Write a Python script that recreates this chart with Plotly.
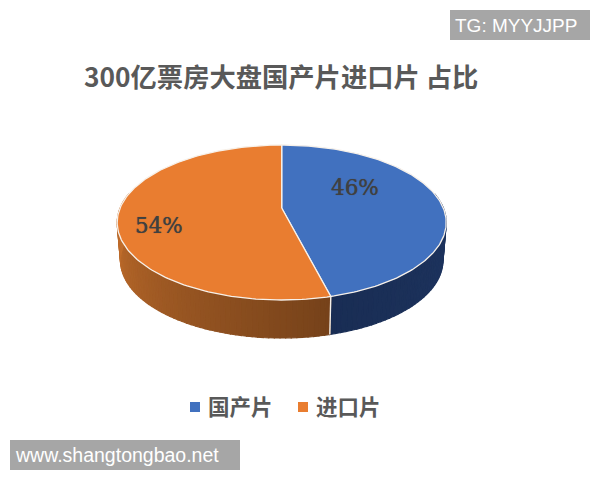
import math
import plotly.graph_objects as go

categories = ["国产片", "进口片"]
values = [46, 54]
colors = ["#4171BF", "#E97D30"]
title_text = "300亿票房大盘国产片进口片 占比"
tag_text = "TG: MYYJJPP"
site_text = "www.shangtongbao.net"

# projection of the tilted, perspective disc onto the page
CX, CY, A, B, K = 281.7, 208.0, 161.6, 74.8, 0.187
DEPTH, SHRINK = 38.0, 0.98
CJK = "Noto Sans CJK SC, Liberation Sans, sans-serif"


def top_pt(t, r=1.0):
    X, Y = r * math.sin(t), r * math.cos(t)
    w = 1 + K * Y
    return CX + A * X / w, CY - B * Y / w


def low_pt(t):
    x, y = top_pt(t)
    return CX + SHRINK * (x - CX), y + DEPTH


def mix(c1, c2, f):
    return "rgb(%d,%d,%d)" % tuple(round(a + (b - a) * f) for a, b in zip(c1, c2))


total = sum(values)
bounds = [0.0]
for v in values:
    bounds.append(bounds[-1] + 2 * math.pi * v / total)

fig = go.Figure()


def quad(t0, t1, color):
    x0, y0 = top_pt(t0)
    x1, y1 = top_pt(t1)
    x2, y2 = low_pt(t1)
    x3, y3 = low_pt(t0)
    fig.add_trace(go.Scatter(
        x=[x0, x1, x2, x3, x0], y=[y0, y1, y2, y3, y0], mode="lines",
        fill="toself", fillcolor=color, line=dict(color=color, width=1.2),
        hoverinfo="skip", showlegend=False))


# outer wall: blue part from the right edge to the seam
side_start = math.pi / 2 - 0.2
n = 50
for i in range(n):
    t0 = side_start + (bounds[1] - side_start) * i / n
    t1 = side_start + (bounds[1] - side_start) * (i + 1) / n
    quad(t0, t1, mix((31, 54, 98), (25, 45, 84), i / n))

# orange wall: from the seam round to the left edge
side_end = 3 * math.pi / 2 + 0.2
for i in range(n + 20):
    t0 = bounds[1] + (side_end - bounds[1]) * i / (n + 20)
    t1 = bounds[1] + (side_end - bounds[1]) * (i + 1) / (n + 20)
    quad(t0, t1, mix((118, 66, 26), (203, 115, 46), i / (n + 19)))

# white seam on the wall
sx0, sy0 = top_pt(bounds[1])
sx1, sy1 = low_pt(bounds[1])
fig.add_trace(go.Scatter(x=[sx0, sx1], y=[sy0, sy1], mode="lines",
                         line=dict(color="#F4EFE8", width=1.4),
                         hoverinfo="skip", showlegend=False))

# top face slices
for i, col in enumerate(colors):
    steps = 160
    ts = [bounds[i] + (bounds[i + 1] - bounds[i]) * k / steps for k in range(steps + 1)]
    pts = [top_pt(t) for t in ts]
    xs = [CX] + [p[0] for p in pts] + [CX]
    ys = [CY] + [p[1] for p in pts] + [CY]
    fig.add_trace(go.Scatter(x=xs, y=ys, mode="lines", fill="toself", fillcolor=col,
                             line=dict(color="#F7F1EA", width=1.3),
                             hoverinfo="skip", showlegend=False))

# legend entries
for cat, col in zip(categories, colors):
    fig.add_trace(go.Scatter(x=[None], y=[None], mode="markers", name=cat,
                             marker=dict(symbol="square", size=10, color=col)))

# percent labels
label_pos = [(355, 187), (159, 225)]
annos = []
for v, (x, y) in zip(values, label_pos):
    annos.append(dict(x=x, y=y, xref="x", yref="y", text=f"{v}%", showarrow=False,
                      font=dict(family="DejaVu Serif, Liberation Serif, serif", size=21.5, color="#404040",
                                shadow="0 0 0.7px #404040")))

annos.append(dict(x=82, y=75, xref="x", yref="y", xanchor="left", text=f"<b>{title_text}</b>",
                  showarrow=False, font=dict(family=CJK, size=26.3, color="#595959")))
annos.append(dict(x=453, y=25, xref="x", yref="y", xanchor="left", text=tag_text, showarrow=False,
                  font=dict(family="Liberation Sans, sans-serif", size=19, color="#FFFFFF")))
annos.append(dict(x=12.5, y=455, xref="x", yref="y", xanchor="left", text=site_text, showarrow=False,
                  font=dict(family="Liberation Sans, sans-serif", size=19.5, color="#FFFFFF")))

shapes = [
    dict(type="rect", x0=450, x1=590, y0=10, y1=40, xref="x", yref="y",
         fillcolor="#A6A6A6", line=dict(width=0), layer="below"),
    dict(type="rect", x0=10, x1=240, y0=440, y1=470, xref="x", yref="y",
         fillcolor="#A6A6A6", line=dict(width=0), layer="below"),
]

fig.update_layout(
    width=600, height=480, autosize=False,
    margin=dict(l=0, r=0, t=0, b=0),
    paper_bgcolor="white", plot_bgcolor="white",
    xaxis=dict(range=[0, 600], visible=False, fixedrange=True),
    yaxis=dict(range=[480, 0], visible=False, fixedrange=True),
    shapes=shapes, annotations=annos,
    legend=dict(orientation="h", x=168 / 600, xanchor="left", y=1 - 407 / 480, yanchor="middle",
                entrywidth=63, entrywidthmode="pixels", itemwidth=30,
                traceorder="normal",
                font=dict(family=CJK, size=21.5, color="#595959", weight=700),
                bgcolor="rgba(0,0,0,0)"),
)

post = """
document.body.style.margin = '0';
document.querySelectorAll('.legend .legendsymbols').forEach(function (g) {
  g.setAttribute('transform', 'translate(7,0)');
});
"""
fig.write_html("out.html", config=dict(displayModeBar=False), post_script=post)
